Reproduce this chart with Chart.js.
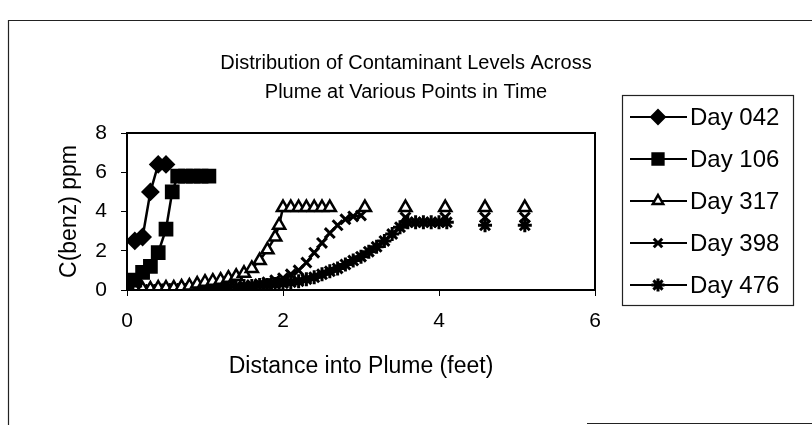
<!DOCTYPE html>
<html>
<head>
<meta charset="utf-8">
<script src="https://cdn.jsdelivr.net/npm/chart.js@4.4.1/dist/chart.umd.min.js"></script>
<style>
  html,body{margin:0;padding:0;background:#fff;}
  #wrap{position:relative;width:812px;height:425px;}
</style>
</head>
<body>
<div id="wrap"><canvas id="c" width="812" height="425"></canvas></div>
<script>
// ---- data ----
const titleLines = ["Distribution of Contaminant Levels Across", "Plume at Various Points in Time"];
const xTitle = "Distance into Plume (feet)";
const yTitle = "C(benz) ppm";
const seriesNames = ["Day 042", "Day 106", "Day 317", "Day 398", "Day 476"];

const day042X = [0.1, 0.2, 0.3, 0.4, 0.5];
const day042Y = [2.5, 2.7, 5.0, 6.4, 6.4];

const day106X = [0.0, 0.1, 0.2, 0.3, 0.4, 0.5, 0.58, 0.65, 0.75, 0.85, 0.95, 1.05];
const day106Y = [0.2, 0.5, 0.9, 1.2, 1.9, 3.1, 5.0, 5.8, 5.8, 5.8, 5.8, 5.8];

const day317X = [0.0,0.1,0.2,0.3,0.4,0.5,0.6,0.7,0.8,0.9,1.0,1.1,1.2,1.3,1.4,1.5,1.6,1.7,1.8,1.9,1.95,2.0,2.1,2.2,2.3,2.4,2.5,2.6,2.8,3.05,3.3,3.57,3.8,4.08,4.3,4.59,4.85,5.1];
const day317Y = [0.05,0.05,0.05,0.05,0.1,0.1,0.1,0.15,0.2,0.3,0.4,0.45,0.5,0.6,0.7,0.85,1.1,1.5,2.05,2.7,3.3,4.2,4.2,4.2,4.2,4.2,4.2,4.2,null,4.2,null,4.2,null,4.2,null,4.2,null,4.2];

const day398X = [0.0,0.1,0.2,0.3,0.4,0.5,0.6,0.7,0.8,0.9,1.0,1.1,1.2,1.3,1.4,1.5,1.6,1.7,1.8,1.9,2.0,2.1,2.2,2.3,2.4,2.5,2.6,2.7,2.8,2.9,3.0,3.3,3.57,3.8,4.08,4.3,4.59,4.85,5.1];
const day398Y = [0.0,0.0,0.0,0.0,0.0,0.0,0.05,0.05,0.05,0.05,0.05,0.1,0.1,0.15,0.15,0.2,0.25,0.3,0.4,0.5,0.6,0.8,1.0,1.4,1.9,2.4,2.9,3.3,3.6,3.75,3.8,null,3.7,null,3.7,null,3.7,null,3.7];

const day476X = [0.0,0.1,0.2,0.3,0.4,0.5,0.6,0.7,0.8,0.9,1.0,1.1,1.2,1.3,1.4,1.5,1.6,1.7,1.8,1.9,2.0,2.1,2.2,2.3,2.4,2.5,2.6,2.7,2.8,2.9,3.0,3.1,3.2,3.3,3.4,3.5,3.6,3.7,3.8,3.9,4.0,4.1,4.3,4.59,4.85,5.1];
const day476Y = [0.0,0.0,0.0,0.0,0.0,0.05,0.05,0.05,0.05,0.05,0.1,0.1,0.1,0.15,0.15,0.2,0.2,0.25,0.25,0.3,0.35,0.4,0.45,0.55,0.65,0.8,0.95,1.1,1.3,1.5,1.7,1.95,2.2,2.5,2.85,3.2,3.45,3.45,3.45,3.45,3.45,3.45,null,3.3,null,3.3];

const xTicks = [0, 2, 4, 6];
const yTicks = [0, 2, 4, 6, 8];

// ---- build chart ----
function pts(xs, ys){ return xs.map((x,i)=>({x:x, y:ys[i]})); }

const styles = [
  {pointStyle:'rectRot', radius:8, bg:'#000', bw:2, lr:7},
  {pointStyle:'rect', radius:9, bg:'#000', bw:2, lr:8},
  {pointStyle:'triangle', radius:7, bg:'#fff', bw:2.5, lr:6},
  {pointStyle:'crossRot', radius:7, bg:'#000', bw:3, lr:6},
  {pointStyle:'star', radius:7, bg:'#000', bw:3, lr:6.5}
];
const seriesData = [pts(day042X,day042Y), pts(day106X,day106Y), pts(day317X,day317Y), pts(day398X,day398Y), pts(day476X,day476Y)];

const datasets = seriesData.map((d,i)=>({
  label: seriesNames[i],
  data: d,
  showLine: true,
  spanGaps: false,
  borderColor: '#000',
  borderWidth: 2.5,
  tension: 0,
  pointStyle: styles[i].pointStyle,
  pointRadius: styles[i].radius,
  pointHoverRadius: styles[i].radius,
  pointBackgroundColor: styles[i].bg,
  pointBorderColor: '#000',
  pointBorderWidth: styles[i].bw
}));

const FONT = "'Liberation Sans', Arial, sans-serif";

function drawMarker(ctx, style, r, x, y){
  ctx.beginPath();
  if (style === 'rectRot'){
    ctx.moveTo(x, y - r); ctx.lineTo(x + r, y); ctx.lineTo(x, y + r); ctx.lineTo(x - r, y); ctx.closePath();
    ctx.fill(); ctx.stroke();
  } else if (style === 'rect'){
    const s = Math.SQRT1_2 * r; ctx.rect(x - s, y - s, 2*s, 2*s); ctx.fill(); ctx.stroke();
  } else if (style === 'triangle'){
    ctx.moveTo(x, y - r); ctx.lineTo(x + r*0.866, y + r*0.5); ctx.lineTo(x - r*0.866, y + r*0.5); ctx.closePath();
    ctx.fill(); ctx.stroke();
  } else if (style === 'crossRot'){
    const s = r*0.7071; ctx.moveTo(x-s,y-s); ctx.lineTo(x+s,y+s); ctx.moveTo(x-s,y+s); ctx.lineTo(x+s,y-s); ctx.stroke();
  } else if (style === 'star'){
    const s = r*0.7071; ctx.moveTo(x-s,y-s); ctx.lineTo(x+s,y+s); ctx.moveTo(x-s,y+s); ctx.lineTo(x+s,y-s);
    ctx.moveTo(x,y-r); ctx.lineTo(x,y+r); ctx.moveTo(x-r,y); ctx.lineTo(x+r,y); ctx.stroke();
  }
}

const framePlugin = {
  id: 'frame',
  afterLayout(chart){
    if (chart.titleBlock){ chart.titleBlock.left = 0; chart.titleBlock.right = 812; chart.titleBlock.width = 812; }
  },
  afterDraw(chart){
    const ctx = chart.ctx, a = chart.chartArea;
    ctx.save();
    // plot area frame
    ctx.strokeStyle = '#000'; ctx.lineWidth = 2;
    ctx.strokeRect(a.left, a.top, a.right - a.left, a.bottom - a.top);
    // outer chart border (partial, as in the scan)
    ctx.lineWidth = 1.2; ctx.strokeStyle = '#222';
    ctx.beginPath();
    ctx.moveTo(8.5, 425); ctx.lineTo(8.5, 20.5); ctx.lineTo(812, 20.5);
    ctx.moveTo(587, 423.5); ctx.lineTo(812, 423.5);
    ctx.stroke();
    // legend
    const lx = 622, ly = 95, lw = 171, lh = 210;
    ctx.strokeRect(lx + 0.5, ly + 0.5, lw, lh);
    ctx.font = "24px " + FONT;
    ctx.textBaseline = 'middle';
    ctx.textAlign = 'left';
    chart.data.datasets.forEach((ds, i) => {
      const y = 117 + i * 42;
      ctx.strokeStyle = '#000'; ctx.lineWidth = 1.8;
      ctx.beginPath(); ctx.moveTo(630, y); ctx.lineTo(687, y); ctx.stroke();
      ctx.fillStyle = ds.pointBackgroundColor; ctx.lineWidth = ds.pointBorderWidth;
      drawMarker(ctx, ds.pointStyle, styles[i].lr, 658, y);
      ctx.fillStyle = '#000';
      ctx.fillText(ds.label, 690, y + 1);
    });
    ctx.restore();
  }
};

new Chart(document.getElementById('c'), {
  type: 'scatter',
  data: { datasets: datasets },
  options: {
    responsive: false,
    animation: false,
    events: [],
    layout: { padding: { left: 0, right: 217, top: 0, bottom: 0 }, autoPadding: false },
    plugins: {
      legend: { display: false },
      tooltip: { enabled: false },
      title: {
        display: true,
        text: titleLines,
        color: '#000',
        font: { family: FONT, size: 20, weight: 'normal', lineHeight: 1.45 },
        padding: { top: 49, bottom: 26 }
      }
    },
    scales: {
      x: {
        type: 'linear', min: 0, max: 6,
        afterBuildTicks(s){ s.ticks = xTicks.map(v=>({value:v})); },
        afterFit(s){ s.height = 135; },
        border: { display: true, color: '#000', width: 2 },
        grid: { display: true, drawOnChartArea: false, drawTicks: true, tickLength: 6, color: '#000', lineWidth: 1 },
        ticks: { color: '#000', font: { family: FONT, size: 21 }, padding: 13, maxRotation: 0 },
        title: { display: true, text: xTitle, color: '#000', font: { family: FONT, size: 23, lineHeight: 1.2 }, padding: { top: 0, bottom: 45 } }
      },
      y: {
        type: 'linear', min: 0, max: 8,
        afterBuildTicks(s){ s.ticks = yTicks.map(v=>({value:v})); },
        afterFit(s){ s.width = 127; },
        border: { display: true, color: '#000', width: 2 },
        grid: { display: true, drawOnChartArea: false, drawTicks: true, tickLength: 6, color: '#000', lineWidth: 1 },
        ticks: { color: '#000', font: { family: FONT, size: 21 }, padding: 14 },
        title: { display: true, text: yTitle, color: '#000', font: { family: FONT, size: 23, lineHeight: 1.2 }, padding: { top: 56, bottom: 0 } }
      }
    }
  },
  plugins: [framePlugin]
});
</script>
</body>
</html>
